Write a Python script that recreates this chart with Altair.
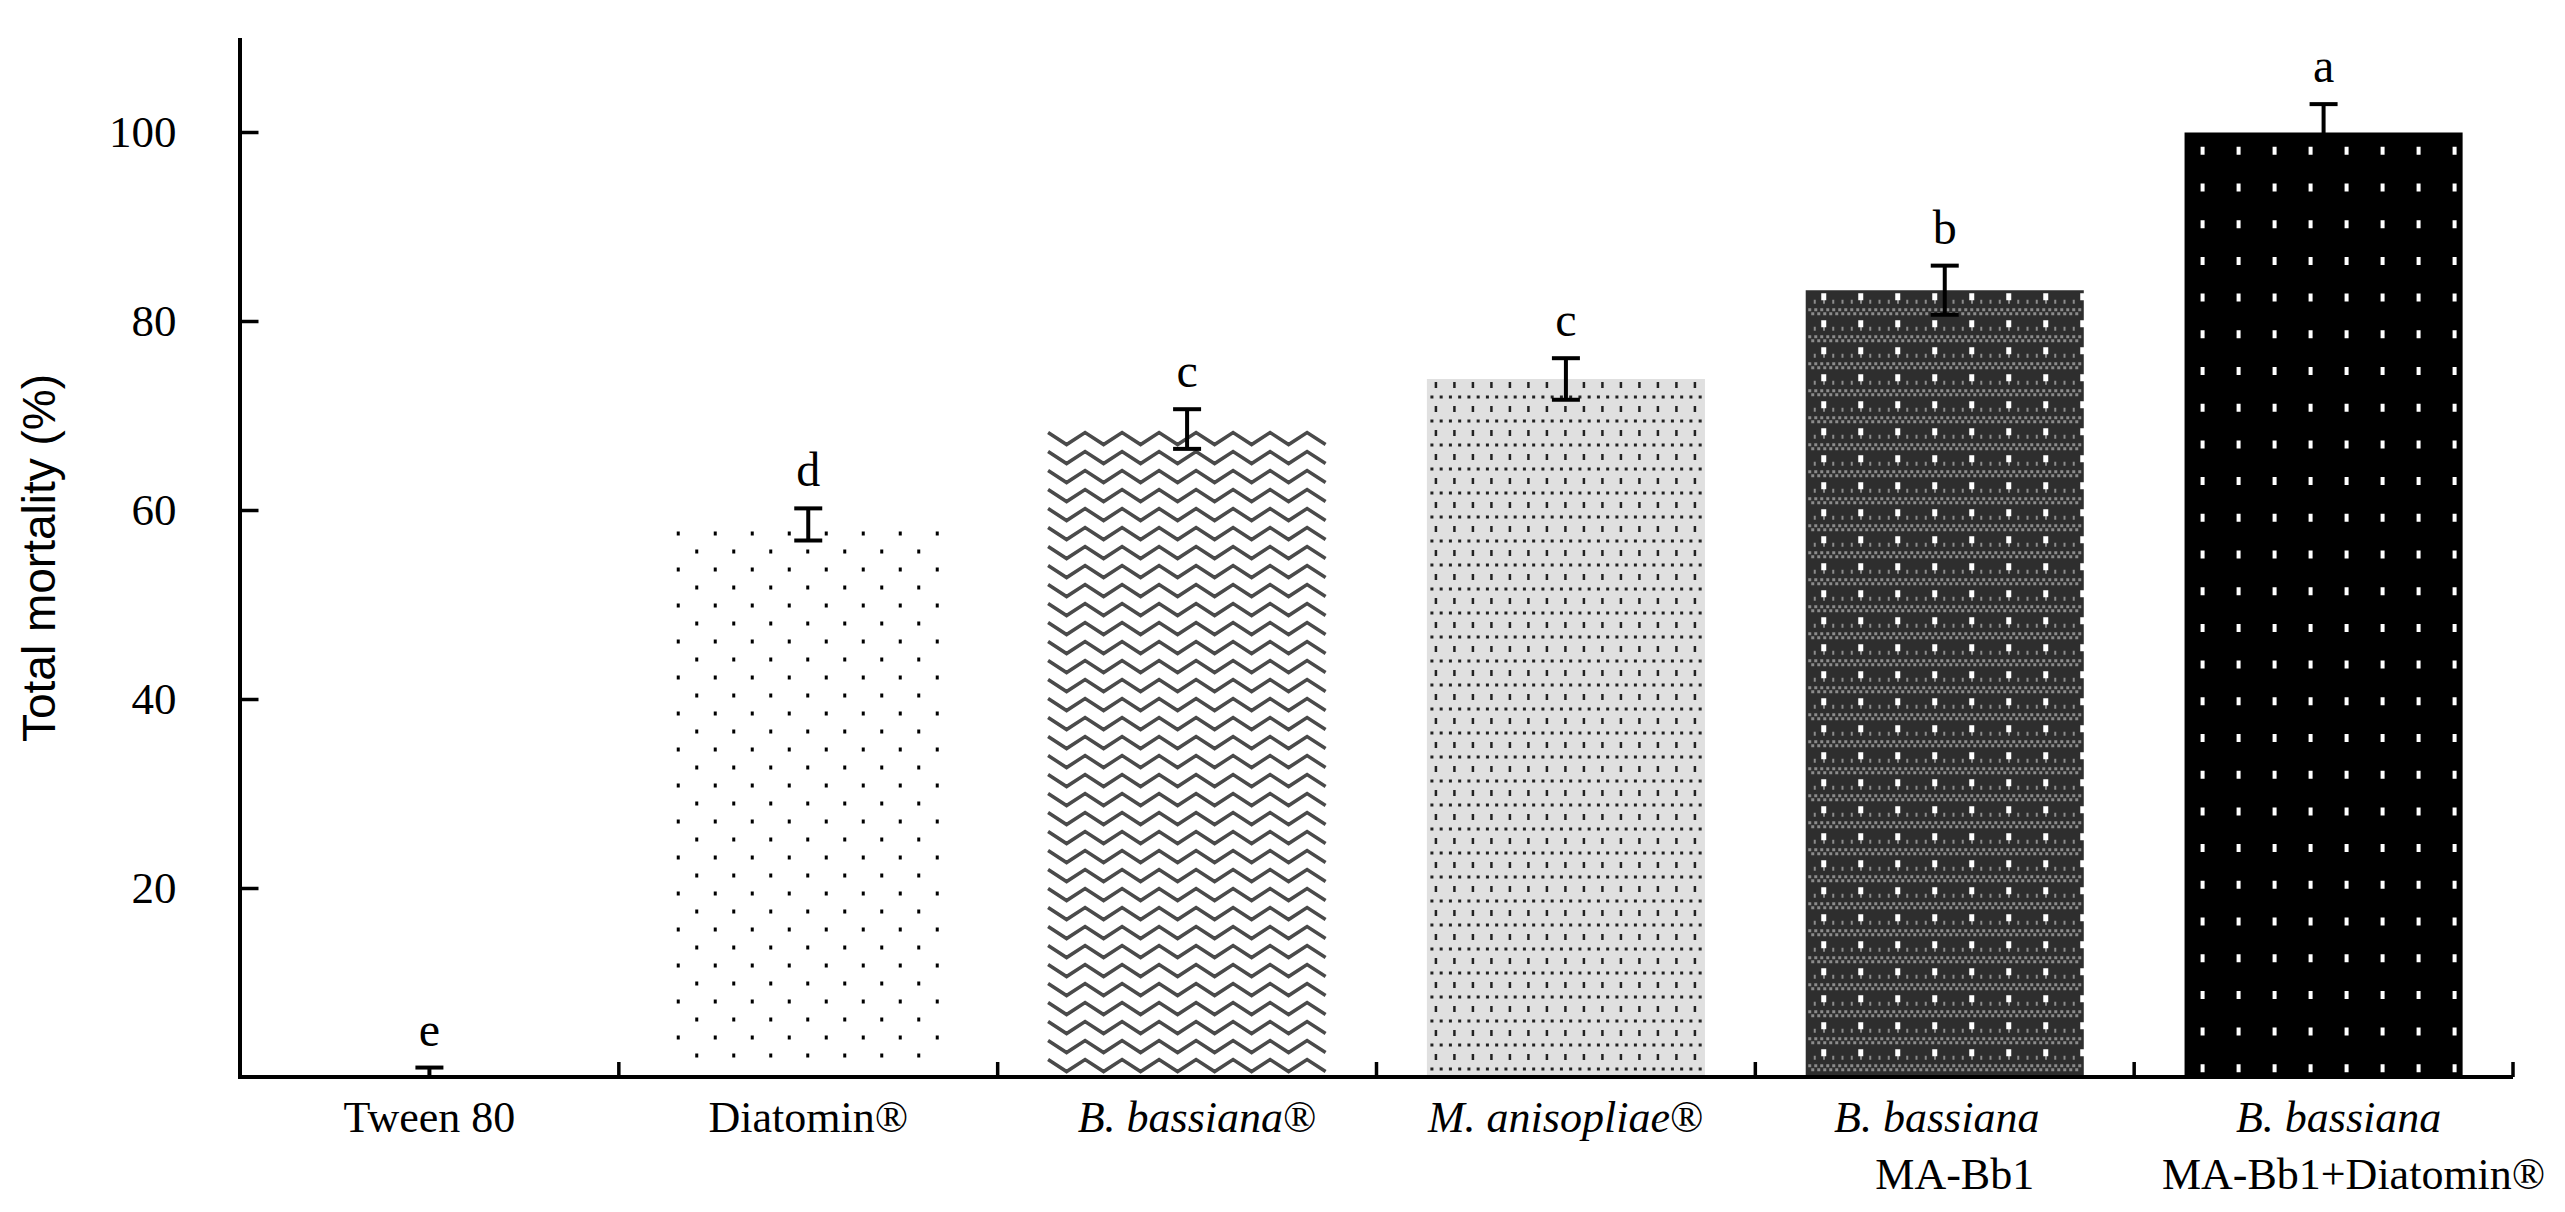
import altair as alt
import pandas as pd

# ---------------- data ----------------
treatments = ["Tween 80", "Diatomin®", "B. bassiana®", "M. anisopliae®",
              "B. bassiana MA-Bb1", "B. bassiana MA-Bb1+Diatomin®"]
mortality = [0.0, 58.5, 68.6, 73.9, 83.3, 100.0]
error = [1.0, 1.7, 2.1, 2.2, 2.6, 3.0]
letters = ["e", "d", "c", "c", "b", "a"]
yticks = [20, 40, 60, 80, 100]
band_edges = [0, 1, 2, 3, 4, 5, 6]   # category boundaries (x-axis ticks)

df = pd.DataFrame({"treatment": treatments, "mean": mortality,
                   "err": error, "letter": letters})

# ---------------- layout / style ----------------
W, H = 2273, 1039
YMAX = 110
PXU = H / YMAX            # px per data unit
S = 100                   # px per glyph-path unit (size = (2*S)^2)
GSIZE = (2 * S) ** 2
SERIF = "Liberation Serif"

base_fills = ["#ffffff", "#ffffff", "#ffffff", "#e0e0e0", "#2e2e2e", "#000000"]


def rects(xs, y, w, h):
    out = []
    for x in xs:
        out.append("M{:.4f},{:.4f}h{:.4f}v{:.4f}h{:.4f}Z".format(
            (x - w / 2) / S, (y - h / 2) / S, w / S, h / S, -w / S))
    return "".join(out)


def zigzag(x0, x1, period, amp):
    pts = []
    k = 0
    x = x0
    while x <= x1 + 0.01:
        y = -amp / 2 if k % 2 == 0 else amp / 2
        pts.append((x / S, y / S))
        x += period / 2
        k += 1
    return "M" + " L".join("{:.4f},{:.4f}".format(a, b) for a, b in pts)


# glyph tiles (one horizontal strip of the texture each)
dia_path = rects([-130 + 37 * i for i in range(8)], -9, 3, 4) + \
    rects([-111.5 + 37 * i for i in range(7)], 9, 3, 4)
zig_path = zigzag(-139, 139, 37, 12)
man_path = rects([-130 + 18.5 * i for i in range(15)], -6, 2.5, 6) + \
    rects([-134 + 9.25 * i for i in range(30)], 6, 3, 3)
mab_white = rects([-121 + 37 * i for i in range(8)], -7, 5, 7)
mab_gray = rects([-135 + 6 * i for i in range(46)], 6, 3, 3) + \
    rects([-132 + 6 * i for i in range(45)], 10, 3, 3) + \
    rects([-130 + 9.25 * i for i in range(29)], -2, 2, 4)
cmb_path = rects([-121 + 36 * i for i in range(8)], 0, 4, 8)

x_enc = alt.X(
    "treatment:N", sort=treatments,
    scale=alt.Scale(domain=treatments, paddingInner=0.266, paddingOuter=0.133),
    axis=None)

y_axis = alt.Axis(
    title="Total mortality (%)", values=yticks, domain=False, grid=False,
    tickSize=18, tickWidth=3.5, tickColor="black", offset=-18,
    labelFont=SERIF, labelFontSize=45, labelColor="black", labelPadding=64,
    titleFont="Liberation Sans", titleFontSize=46, titleFontWeight="normal",
    titleColor="black", titlePadding=44)


def y_enc(field):
    return alt.Y(f"{field}:Q", scale=alt.Scale(domain=[0, YMAX], nice=False),
                 axis=y_axis)


base = alt.Chart(df)

bars = base.mark_bar(strokeWidth=0).encode(
    x=x_enc, y=y_enc("mean"),
    color=alt.Color("treatment:N",
                    scale=alt.Scale(domain=treatments, range=base_fills),
                    legend=None))


def texture(cat, path, step_px, half_px, color, filled=True, sw=0):
    step = step_px / PXU
    half = half_px / PXU
    ch = base.transform_filter(alt.datum.treatment == cat).transform_calculate(
        k="sequence(0, floor(datum.mean / {:.5f}) + 1)".format(step)
    ).transform_flatten(["k"]).transform_calculate(
        row="datum.mean - {:.5f} - datum.k * {:.5f}".format(step / 2, step)
    ).transform_filter("datum.row >= {:.5f}".format(half))
    if filled:
        m = ch.mark_point(shape=path, size=GSIZE, filled=True, color=color,
                          opacity=1, strokeWidth=0)
    else:
        m = ch.mark_point(shape=path, size=GSIZE, filled=False, color=color,
                          opacity=1, strokeWidth=sw)
    return m.encode(x=x_enc, y=y_enc("row"))


tex = [
    texture(treatments[1], dia_path, 36, 12, "#000000"),
    texture(treatments[2], zig_path, 19, 8, "#4a4a4a", filled=False, sw=3.5),
    texture(treatments[3], man_path, 24, 10, "#222222"),
    texture(treatments[4], mab_gray, 27, 12, "#8c8c8c"),
    texture(treatments[4], mab_white, 27, 12, "#ffffff"),
    texture(treatments[5], cmb_path, 36.7, 6, "#ffffff"),
]

eb = base.transform_calculate(hi="datum.mean + datum.err",
                              lo="max(0, datum.mean - datum.err)")
err_rule = eb.mark_rule(strokeWidth=4, color="black").encode(
    x=x_enc, y=y_enc("lo"), y2="hi:Q")
cap_hi = eb.mark_tick(thickness=4, size=28, color="black", opacity=1).encode(
    x=x_enc, y=y_enc("hi"))
cap_lo = eb.mark_tick(thickness=4, size=28, color="black", opacity=1).encode(
    x=x_enc, y=y_enc("lo"))
letter_txt = eb.mark_text(font=SERIF, fontSize=48, baseline="alphabetic",
                          dy=-22, color="black").encode(
    x=x_enc, y=y_enc("hi"), text="letter:N")

axis_df = pd.DataFrame({"k": [0]})
y_line = alt.Chart(axis_df).mark_rule(strokeWidth=4, color="black").encode(
    x=alt.value(0), y=alt.value(0), y2=alt.value(H))
x_line = alt.Chart(axis_df).mark_rule(strokeWidth=4, color="black").encode(
    x=alt.value(-2), x2=alt.value(W), y=alt.value(H))

L1 = H + 55
L2 = H + 112
FS = 44


def lab(cats, text, y, italic=False, align="center", dx=0):
    props = dict(font=SERIF, fontSize=FS, baseline="alphabetic", align=align,
                 dx=dx, color="black")
    if italic:
        props["fontStyle"] = "italic"
    return alt.Chart(pd.DataFrame({"treatment": cats, "t": text})).mark_text(
        **props).encode(x=x_enc, y=alt.value(y), text="t:N")


labels = [
    lab([treatments[0], treatments[1]], ["Tween 80", "Diatomin®"], L1),
    lab([treatments[2]], ["B. bassiana"], L1, italic=True, align="right", dx=96),
    lab([treatments[2]], ["®"], L1, align="left", dx=96),
    lab([treatments[3]], ["M. anisopliae"], L1, italic=True, align="right", dx=104),
    lab([treatments[3]], ["®"], L1, align="left", dx=104),
    lab([treatments[4]], ["B. bassiana"], L1, italic=True, dx=-8),
    lab([treatments[4]], ["MA-Bb1"], L2, dx=10),
    lab([treatments[5]], ["B. bassiana"], L1, italic=True, dx=15),
    lab([treatments[5]], ["MA-Bb1+Diatomin®"], L2, dx=30),
]

main = alt.layer(bars, *tex, err_rule, cap_hi, cap_lo, letter_txt,
                 y_line, x_line, *labels)

edge_ticks = alt.Chart(pd.DataFrame({"edge": band_edges})).mark_rule(
    strokeWidth=3.5, color="black").encode(
    x=alt.X("edge:Q", scale=alt.Scale(domain=[0, len(treatments)], nice=False,
                                      zero=False), axis=None),
    y=alt.value(H - 15), y2=alt.value(H))

chart = alt.layer(main, edge_ticks).resolve_scale(x="independent").properties(
    width=W, height=H,
    padding={"left": 9, "top": 28, "right": 10, "bottom": 5},
    background="white",
).configure_view(stroke=None)

chart.save("out.html", embed_options={"renderer": "svg", "actions": False})
